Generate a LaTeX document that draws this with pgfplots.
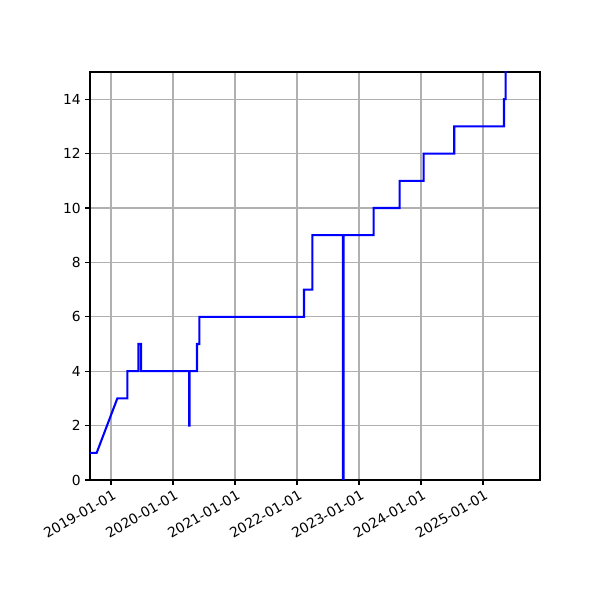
\documentclass[border=0pt]{standalone}
\usepackage{fontspec}
\setmainfont{DejaVu Sans}
\usepackage{pgfplots}
\pgfplotsset{compat=1.18}

\begin{document}
\begin{tikzpicture}
\path[fill=white] (0,0) rectangle (6in,6in);
\begin{axis}[
    at={(0.9in,1.2in)}, anchor=south west,
    scale only axis,
    width=4.5in, height=4.08in,
    xmin=2018.661, xmax=2025.92,
    ymin=0, ymax=15,
    xtick={2019,2020,2021,2022,2023,2024,2025},
    xticklabels={2019-01-01,2020-01-01,2021-01-01,2022-01-01,2023-01-01,2024-01-01,2025-01-01},
    ytick={0,2,...,14},
    xticklabel style={rotate=30, anchor=north east, inner sep=1pt, yshift=-2pt},
    yticklabel style={inner sep=2pt, xshift=-1pt},
    /pgf/number format/assume math mode=true,
    tick align=outside,
    major tick length=3.5pt,
    tick style={black, line width=0.8pt},
    xtick pos=bottom, ytick pos=left,
    grid=major,
    grid style={color=black!31, line width=0.8pt},
    axis line style={line width=0.8pt},
    tick label style={font=\fontsize{10}{12}\selectfont},
    clip=true,
]
\addplot[blue, line width=1.5pt, line join=miter] coordinates {
(2018.661,1)(2018.769,1)(2019.102,3)(2019.263,3)(2019.263,4)(2019.440,4)(2019.440,5)(2019.484,5)(2019.484,4)
(2020.259,4)(2020.259,2)(2020.267,2)(2020.267,4)(2020.387,4)(2020.387,5)(2020.424,5)(2020.424,6)
(2022.113,6)(2022.113,7)(2022.247,7)(2022.247,9)(2022.742,9)(2022.742,0)(2022.750,0)(2022.750,9)
(2023.237,9)(2023.237,10)(2023.656,10)(2023.656,11)(2024.044,11)(2024.044,12)(2024.537,12)(2024.537,13)
(2025.339,13)(2025.339,14)(2025.366,14)(2025.366,16)
};
\end{axis}
\end{tikzpicture}
\end{document}
